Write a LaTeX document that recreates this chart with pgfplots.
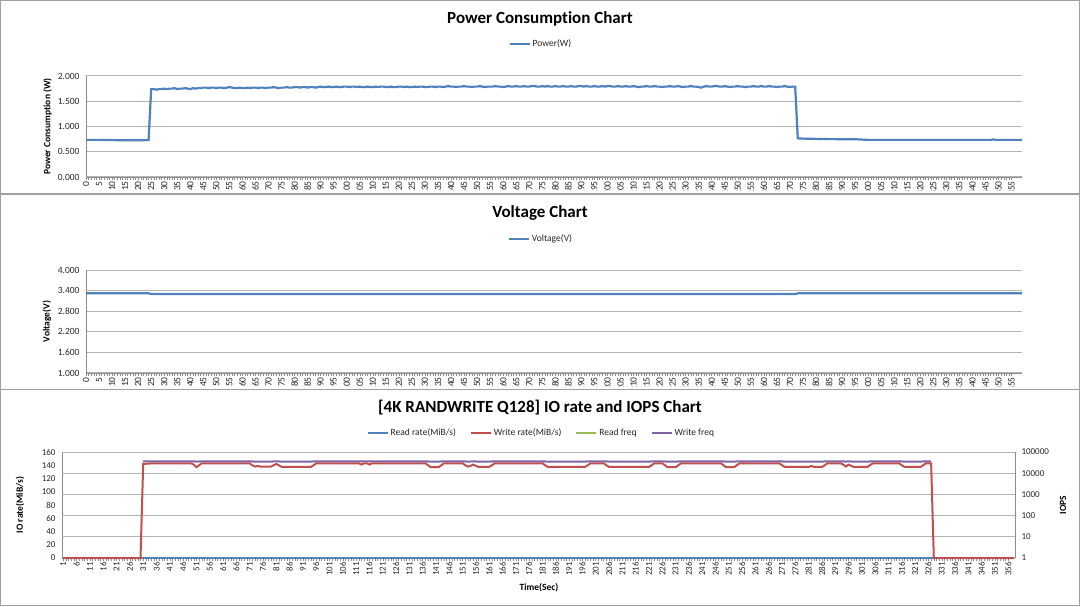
\documentclass[border=0pt]{standalone}
\usepackage{fontspec}
\setmainfont{Carlito}[Ligatures=NoCommon]
\usepackage{pgfplots}
\pgfplotsset{compat=1.18}
\usepackage{pgfplotstable}

\definecolor{xlblue}{HTML}{4F81BD}
\definecolor{xlred}{HTML}{C0504D}
\definecolor{xlgreen}{HTML}{9BBB59}
\definecolor{xlpurple}{HTML}{8064A2}
\definecolor{gridc}{HTML}{B4B4B4}
\definecolor{axisc}{HTML}{8C8C8C}
\definecolor{boxc}{HTML}{A0A0A0}
\definecolor{txt}{HTML}{262626}

\pgfplotsset{
  xlbase/.style={
    scale only axis,
    anchor=south west,
    /pgf/number format/assume math mode=true,
    tick label style={font=\fontsize{9.5}{10}\selectfont, text=txt},
    axis x line*=bottom, axis y line*=left,
    axis line style={axisc, line width=0.8pt, -},
    tick align=outside,
    major tick length=3pt, minor tick length=3pt,
    tick style={axisc, line width=0.5pt},
    ytick style={draw=none},
    ymajorgrids, grid style={gridc, line width=1pt},
    xticklabel style={rotate=90, anchor=east, inner sep=1pt},
    scaled y ticks=false,
    legend style={draw=none, fill=none, font=\fontsize{9.5}{10}\selectfont, text=txt, inner sep=0pt},
    legend cell align=left,
    legend image code/.code={\draw[##1] (0pt,0pt) -- (20pt,0pt);},
    label style={font=\bfseries\fontsize{9.5}{11}\selectfont, text=black},
  }
}

\pgfplotstableread[row sep=\\]{
x r f\\
1 0 nan\\ 30 0 nan\\ 31 142 36400\\ 35 143 36600\\ 49 143 36600\\
50 141 36100\\ 51 137 35100\\ 52 140 35800\\ 53 143 36600\\ 71 143 36600\\
72 140 35800\\ 73 138 35300\\ 74 139 35600\\ 75 138 35300\\ 79 138 35300\\
80 140 35800\\ 81 142 36400\\ 82 140 35800\\ 83 137.5 35200\\ 94 137.5 35200\\
95 140 35800\\ 96 143 36600\\ 112 143 36600\\ 113 141 36100\\ 114 143 36600\\
115 143 36600\\ 116 141 36100\\ 117 143 36600\\ 137 143 36600\\ 138 140 35800\\
139 137 35100\\ 142 137 35100\\ 143 140 35800\\ 144 143 36600\\ 151 143 36600\\
152 140 35800\\ 153 138 35300\\ 154 139 35600\\ 155 141 36100\\ 156 139 35600\\
157 137.5 35200\\ 161 137.5 35200\\ 162 140 35800\\ 163 143 36600\\ 181 143 36600\\
182 140 35800\\ 183 137.5 35200\\ 197 137.5 35200\\ 198 140 35800\\ 199 143 36600\\
204 143 36600\\ 205 140 35800\\ 206 137.5 35200\\ 221 137.5 35200\\ 222 140 35800\\
223 143 36600\\ 226 143 36600\\ 227 140 35800\\ 228 137 35100\\ 231 137 35100\\
232 140 35800\\ 233 143 36600\\ 248 143 36600\\ 249 140 35800\\ 250 137 35100\\
253 137 35100\\ 254 140 35800\\ 255 143 36600\\ 270 143 36600\\ 271 140 35800\\
272 137.5 35200\\ 281 137.5 35200\\ 282 139 35600\\ 283 137.5 35200\\ 286 137.5 35200\\
287 140 35800\\ 288 143 36600\\ 293 143 36600\\ 294 141 36100\\ 295 138 35300\\
296 141 36100\\ 297 139 35600\\ 298 137.5 35200\\ 303 137.5 35200\\ 304 140 35800\\
305 143 36600\\ 315 143 36600\\ 316 140 35800\\ 317 137.5 35200\\ 323 137.5 35200\\
324 140 35800\\ 325 143 36600\\ 327 143 36600\\ 328 0 nan\\ 358 0 nan\\
}\iotable

\begin{document}
\begin{tikzpicture}
\useasboundingbox (0pt,0pt) rectangle (1080pt,606pt);
\fill[white] (0pt,0pt) rectangle (1080pt,606pt);
\draw[boxc, line width=1.2pt] (0.6pt,0.6pt) rectangle (1079.4pt,605.4pt);
\draw[boxc, line width=1.3pt] (0pt,412pt) -- (1080pt,412pt);
\draw[boxc, line width=1.3pt] (0pt,216.7pt) -- (1080pt,216.7pt);

\node[font=\bfseries\fontsize{17}{20}\selectfont] at (540pt,587pt) {Power Consumption Chart};
\node[font=\bfseries\fontsize{17}{20}\selectfont] at (540pt,393pt) {Voltage Chart};
\node[font=\bfseries\fontsize{17}{20}\selectfont] at (540pt,198pt) {[4K RANDWRITE Q128] IO rate and IOPS Chart};

% ---------------- Power ----------------
\begin{scope}
\clip (1pt,415.5pt) rectangle (1079pt,605pt);
\begin{axis}[xlbase, at={(86pt,429pt)}, width=936pt, height=101pt,
  xmin=0, xmax=359, ymin=0, ymax=2,
  xtick={0,5,...,355}, minor x tick num=4,
  ytick={0,0.5,1,1.5,2},
  y tick label style={/pgf/number format/fixed, /pgf/number format/fixed zerofill, /pgf/number format/precision=3},
  ylabel={Power Consumption (W)},
  ylabel style={at={(axis description cs:-0.041,0.5)}, anchor=center},
  legend style={at={(0.486,1.317)}, anchor=center},
]
\addplot[xlblue, line width=2.2pt] coordinates {
(0,0.735) (5,0.735) (10,0.733) (12,0.728) (20,0.728) (23,0.73) (24,0.73)
(25,1.74) (26,1.74) (27,1.73) (28,1.74) (29,1.74) (30,1.75) (31,1.74) (32,1.75) (33,1.75) (34,1.76) (35,1.74)
(36,1.75) (37,1.75) (38,1.76) (39,1.75) (40,1.74) (41,1.76) (42,1.75) (43,1.76) (44,1.76) (45,1.77)
(46,1.77) (47,1.76) (48,1.77) (49,1.77) (50,1.76) (51,1.77) (52,1.77) (53,1.76) (54,1.77) (55,1.78)
(56,1.77) (57,1.76) (58,1.76) (59,1.77) (60,1.76) (61,1.76) (62,1.77) (63,1.76) (64,1.77) (65,1.77)
(66,1.76) (67,1.77) (68,1.77) (69,1.76) (70,1.77) (71,1.77) (72,1.78) (73,1.77) (74,1.76) (75,1.77)
(76,1.77) (77,1.78) (78,1.77) (79,1.77) (80,1.78) (81,1.78) (82,1.77) (83,1.78) (84,1.78) (85,1.77)
(86,1.78) (87,1.78) (88,1.77) (89,1.78) (90,1.79) (91,1.78) (92,1.78) (93,1.79) (94,1.78) (95,1.78)
(96,1.79) (97,1.78) (98,1.78) (99,1.79) (100,1.79) (101,1.78) (102,1.79) (103,1.79) (104,1.78) (105,1.79)
(106,1.78) (107,1.78) (108,1.79) (109,1.78) (110,1.78) (111,1.79) (112,1.78) (113,1.79) (114,1.79) (115,1.78)
(116,1.78) (117,1.79) (118,1.78) (119,1.78) (120,1.79) (121,1.79) (122,1.78) (123,1.79) (124,1.78) (125,1.78)
(126,1.79) (127,1.78) (128,1.79) (129,1.79) (130,1.78) (131,1.78) (132,1.79) (133,1.79) (134,1.78) (135,1.79)
(136,1.79) (137,1.78) (138,1.79) (139,1.80) (140,1.79) (141,1.79) (142,1.78) (143,1.79) (144,1.79) (145,1.80)
(146,1.79) (147,1.79) (148,1.78) (149,1.79) (150,1.79) (151,1.80) (152,1.79) (153,1.78) (154,1.79) (155,1.79)
(156,1.79) (157,1.80) (158,1.79) (159,1.79) (160,1.78) (161,1.79) (162,1.80) (163,1.79) (164,1.79) (165,1.80)
(166,1.79) (167,1.79) (168,1.80) (169,1.79) (170,1.79) (171,1.80) (172,1.80) (173,1.79) (174,1.79) (175,1.80)
(176,1.79) (177,1.80) (178,1.79) (179,1.79) (180,1.80) (181,1.79) (182,1.79) (183,1.80) (184,1.79) (185,1.79)
(186,1.80) (187,1.79) (188,1.79) (189,1.80) (190,1.80) (191,1.79) (192,1.80) (193,1.79) (194,1.79) (195,1.80)
(196,1.79) (197,1.79) (198,1.80) (199,1.79) (200,1.80) (201,1.80) (202,1.79) (203,1.79) (204,1.80) (205,1.79)
(206,1.79) (207,1.80) (208,1.79) (209,1.79) (210,1.80) (211,1.79) (212,1.78) (213,1.79) (214,1.79) (215,1.80)
(216,1.79) (217,1.79) (218,1.80) (219,1.79) (220,1.79) (221,1.78) (222,1.79) (223,1.79) (224,1.80) (225,1.79)
(226,1.79) (227,1.80) (228,1.79) (229,1.78) (230,1.79) (231,1.79) (232,1.80) (233,1.79) (234,1.79) (235,1.78)
(236,1.77) (237,1.79) (238,1.80) (239,1.79) (240,1.79) (241,1.80) (242,1.80) (243,1.79) (244,1.79) (245,1.80)
(246,1.79) (247,1.78) (248,1.79) (249,1.79) (250,1.80) (251,1.79) (252,1.79) (253,1.78) (254,1.79) (255,1.79)
(256,1.80) (257,1.79) (258,1.79) (259,1.80) (260,1.79) (261,1.79) (262,1.80) (263,1.79) (264,1.79) (265,1.78)
(266,1.79) (267,1.79) (268,1.80) (269,1.79) (270,1.78) (271,1.79) (272,1.79)
(273,0.765) (275,0.76) (280,0.755) (285,0.75) (295,0.748) (298,0.74) (300,0.735)
(347,0.735) (348,0.745) (349,0.735) (359,0.735)
};
\addlegendentry{Power(W)}
\end{axis}
\end{scope}

% ---------------- Voltage ----------------
\begin{scope}
\clip (1pt,219.5pt) rectangle (1079pt,411pt);
\begin{axis}[xlbase, at={(86pt,233pt)}, width=936pt, height=103pt,
  xmin=0, xmax=359, ymin=1, ymax=4,
  xtick={0,5,...,355}, minor x tick num=4,
  ytick={1,1.6,2.2,2.8,3.4,4},
  y tick label style={/pgf/number format/fixed, /pgf/number format/fixed zerofill, /pgf/number format/precision=3},
  ylabel={Voltage(V)},
  ylabel style={at={(axis description cs:-0.0417,0.5)}, anchor=center},
  legend style={at={(0.486,1.301)}, anchor=center},
]
\addplot[xlblue, line width=2.2pt] coordinates {
(0,3.32) (24,3.32) (25,3.30) (272,3.30) (273,3.32) (359,3.32)
};
\addlegendentry{Voltage(V)}
\end{axis}
\end{scope}

% ---------------- IO rate / IOPS ----------------
\begin{axis}[xlbase, at={(62pt,48pt)}, width=953pt, height=106pt,
  xmin=0.5, xmax=358.5, ymin=0, ymax=160,
  clip=false,
  tick label style={font=\fontsize{9}{10}\selectfont},
  xtick={1,6,...,356}, minor x tick num=4,
  ytick={0,20,...,160},
  ymajorgrids=false,
  extra y ticks={32,64,96,128,160}, extra y tick labels={},
  extra y tick style={grid=major, major tick length=0pt},
  ylabel={IO rate(MiB/s)},
  ylabel style={at={(axis description cs:-0.0441,0.5)}, anchor=center},
  xlabel={Time(Sec)},
  xlabel style={at={(axis description cs:0.5005,-0.283)}, anchor=center},
  legend columns=4,
  legend style={at={(0.503,1.179)}, anchor=center, /tikz/every even column/.append style={column sep=12pt}},
]
\addplot[xlblue, line width=2pt] coordinates {(1,0) (358,0)};
\addlegendentry{Read rate(MiB/s)}
\addplot[xlred, line width=2pt] table[x=x, y=r] {\iotable};
\addlegendentry{Write rate(MiB/s)}
\addlegendimage{xlgreen, line width=2pt}
\addlegendentry{Read freq}
\addlegendimage{xlpurple, line width=2pt}
\addlegendentry{Write freq}
\end{axis}
\begin{axis}[xlbase, at={(62pt,48pt)}, width=953pt, height=106pt,
  xmin=0.5, xmax=358.5, ymode=log, ymin=1, ymax=100000,
  tick label style={font=\fontsize{9}{10}\selectfont},
  hide x axis, axis y line*=right,
  ymajorgrids=false,
  ytick={1,10,100,1000,10000,100000},
  yticklabels={1,10,100,1000,10000,100000},
  yticklabel style={anchor=west},
  ylabel={IOPS},
  ylabel style={at={(axis description cs:1.0504,0.5)}, anchor=center},
]
\addplot[xlpurple, line width=2pt] table[x=x, y=f] {\iotable};
\end{axis}
\end{tikzpicture}
\end{document}
